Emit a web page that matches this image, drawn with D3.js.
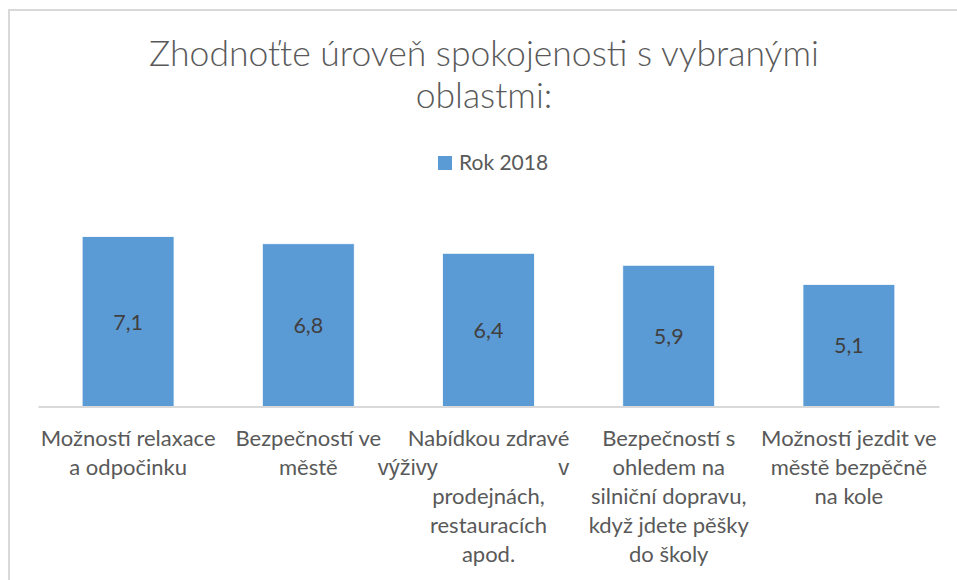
<!DOCTYPE html>
<head>
  <meta charset="utf-8">
  <script src="https://d3js.org/d3.v7.min.js"></script>
  <style>
    body { margin:0; background:#fff; font-family: Lato, "Open Sans", sans-serif; }
  </style>
</head>
<body>
  <script>
    // chart data
    var categories = ["relax", "bezpecnost", "vyziva", "doprava", "kolo"];
    var values2018 = [7.1, 6.8, 6.4, 5.9, 5.1];
    var seriesName = "Rok 2018";
    var valueLabels = ["7,1", "6,8", "6,4", "5,9", "5,1"];
    var tickLabels = [
      ["Možností relaxace", "a odpočinku"],
      ["Bezpečností ve", "městě"],
      ["Nabídkou zdravé", "výživy v", "prodejnách,", "restauracích", "apod."],
      ["Bezpečností s", "ohledem na", "silniční dopravu,", "když jdete pěšky", "do školy"],
      ["Možností jezdit ve", "městě bezpěčně", "na kole"]
    ];
    var titleLines = ["Zhodnoťte úroveň spokojenosti s vybranými", "oblastmi:"];
    var yDomain = [0, 8];

    var W = 957, H = 580;
    var labelSize = "22px";
    var svg = d3.select("body").append("svg")
      .attr("width", W)
      .attr("height", H);

    // chart frame
    svg.append("rect")
      .attr("x", 9).attr("y", 10)
      .attr("width", W + 20).attr("height", H + 20)
      .style("fill", "none")
      .style("stroke", "#d9d9d9")
      .style("stroke-width", 2);

    var x = d3.scaleBand()
      .domain(categories)
      .range([38, 939])
      .paddingInner(0.49)
      .paddingOuter(0.245);

    var y = d3.scaleLinear()
      .domain(yDomain)
      .range([406.5, 215]);

    // title
    svg.append("g").selectAll("text")
      .data(titleLines)
      .enter().append("text")
      .attr("x", 484)
      .attr("y", function(d, i) { return 66 + i * 42; })
      .attr("text-anchor", "middle")
      .style("font-size", "35.5px")
      .style("font-weight", 300)
      .style("fill", "#595959")
      .text(function(d) { return d; });

    // legend
    var legend = svg.append("g").attr("transform", "translate(438,156)");
    legend.append("rect")
      .attr("width", 14).attr("height", 14)
      .style("fill", "#5b9bd5");
    legend.append("text")
      .attr("x", 21).attr("y", 14)
      .style("font-size", "21px")
      .style("fill", "#595959")
      .text(seriesName);

    // bars
    svg.selectAll(".bar")
      .data(values2018)
      .enter().append("rect")
      .attr("class", "bar")
      .attr("x", function(d, i) { return x(categories[i]); })
      .attr("y", function(d) { return y(d); })
      .attr("width", x.bandwidth())
      .attr("height", function(d) { return y(0) - y(d); })
      .style("fill", "#5b9bd5")
      .style("stroke", "#fff")
      .style("stroke-width", 0.8);

    svg.selectAll(".val")
      .data(values2018)
      .enter().append("text")
      .attr("class", "val")
      .attr("x", function(d, i) { return x(categories[i]) + x.bandwidth() / 2; })
      .attr("y", function(d) { return (y(d) + y(0)) / 2 + 8; })
      .attr("text-anchor", "middle")
      .style("font-size", "21.5px")
      .style("fill", "#404040")
      .text(function(d, i) { return valueLabels[i]; });

    // x axis
    var xAxis = d3.axisBottom(x).tickSize(0).tickFormat("");
    var gx = svg.append("g")
      .attr("transform", "translate(0," + y(0) + ")")
      .call(xAxis);
    gx.select(".domain").style("stroke", "#d9d9d9").style("stroke-width", 2);

    // multi-line category labels
    gx.selectAll(".tick").each(function(d, i) {
      var g = d3.select(this);
      var lines = tickLabels[i];
      var t = g.append("text")
        .attr("text-anchor", "middle")
        .style("font-size", labelSize)
        .style("font-family", "Lato, sans-serif")
        .style("fill", "#595959");
      lines.forEach(function(line, j) {
        t.append("tspan")
          .attr("x", 0)
          .attr("y", 39 + j * 29)
          .text(line);
      });
      // third label: justified first lines (as in the original text box)
      if (i === 2) {
        var full = t.select("tspan").node().getComputedTextLength();
        var second = t.selectAll("tspan").filter(function(e, k) { return k === 1; });
        var words = lines[1].split(" ");
        second.remove();
        g.append("text")
          .attr("x", -full / 2).attr("y", 39 + 29)
          .style("font-size", labelSize)
          .style("fill", "#595959")
          .text(words[0]);
        g.append("text")
          .attr("x", full / 2).attr("y", 39 + 29)
          .attr("text-anchor", "end")
          .style("font-size", labelSize)
          .style("fill", "#595959")
          .text(words[1]);
      }
    });
  </script>
</body>
